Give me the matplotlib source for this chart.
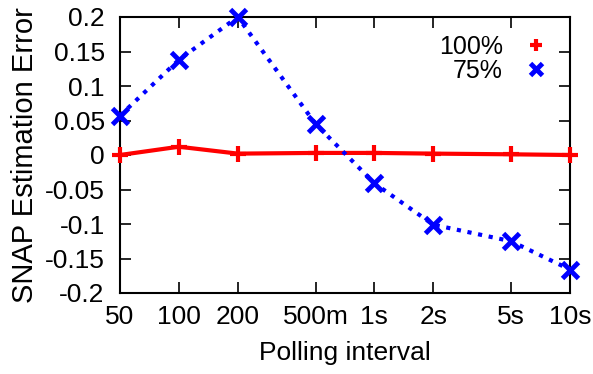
import matplotlib
matplotlib.use("Agg")
import matplotlib.pyplot as plt
from matplotlib.ticker import FixedLocator, NullLocator

plt.rcParams["font.family"] = ["Liberation Sans", "DejaVu Sans"]
plt.rcParams["font.size"] = 19

interval_ms = [50, 100, 200, 500, 1000, 2000, 5000, 10000]
tick_labels = ["50", "100", "200", "500m", "1s", "2s", "5s", "10s"]
err_100 = [0.0, 0.012, 0.002, 0.003, 0.003, 0.002, 0.001, 0.0]
err_75 = [0.057, 0.138, 0.2, 0.045, -0.041, -0.101, -0.125, -0.166]
y_ticks = [-0.2, -0.15, -0.1, -0.05, 0, 0.05, 0.1, 0.15, 0.2]
y_labels = ["-0.2", "-0.15", "-0.1", "-0.05", "0", "0.05", "0.1", "0.15", "0.2"]

fig = plt.figure(figsize=(5.93, 3.74), dpi=100)
ax = fig.add_axes([120 / 593, 1 - 293 / 374, 450 / 593, 276 / 374])

ax.plot(interval_ms, err_100, color="red", lw=3, marker="+", ms=11, mew=3,
        label="100%", clip_on=False, zorder=3)
ax.plot(interval_ms, err_75, color="blue", lw=3, ls=(0, (1, 1.6)), marker="x",
        ms=11, mew=3.5, label="75%", clip_on=False, zorder=3)

ax.set_xscale("log")
ax.set_xlim(50, 10000)
ax.set_ylim(-0.2, 0.2)
ax.xaxis.set_major_locator(FixedLocator(interval_ms))
ax.xaxis.set_minor_locator(NullLocator())
ax.set_xticklabels(tick_labels)
ax.set_yticks(y_ticks)
ax.set_yticklabels(y_labels)

ax.tick_params(axis="both", direction="in", length=8, width=1.2, top=True,
               right=True)
ax.tick_params(axis="y", pad=11)
ax.tick_params(axis="x", pad=9)
for s in ax.spines.values():
    s.set_linewidth(1.5)

ax.set_xlabel("Polling interval", labelpad=8)
ax.set_ylabel("SNAP Estimation Error", fontsize=21, labelpad=4)

leg = ax.legend(loc="upper right", frameon=False, markerfirst=False,
                handlelength=1.0, handletextpad=0.8, labelspacing=0.0,
                borderaxespad=0.3, bbox_to_anchor=(0.99, 1.0),
                prop={"size": 18})
for h in leg.legend_handles:
    h.set_linestyle("")
    h.set_markersize(8)

fig.savefig("out.png", dpi=100)
